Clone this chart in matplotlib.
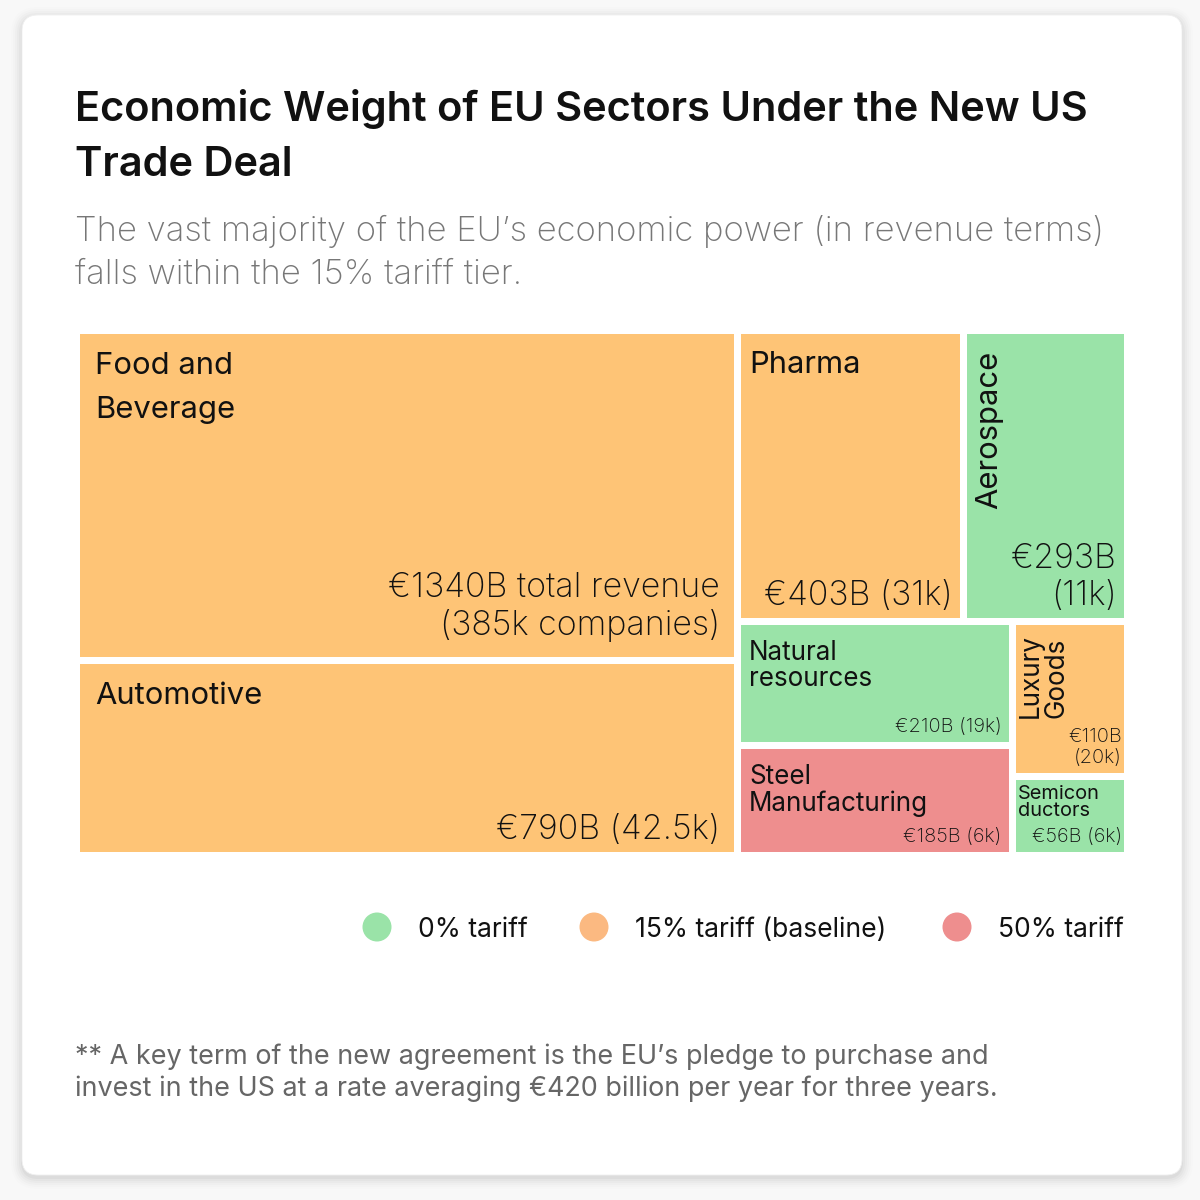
import matplotlib.pyplot as plt
from matplotlib.patches import FancyBboxPatch, Rectangle, Circle

# ---------------------------------------------------------
# Data
# ---------------------------------------------------------
sectors = ['Food and\nBeverage', 'Automotive', 'Pharma', 'Aerospace',
           'Natural\nresources', 'Steel\nManufacturing', 'Luxury\nGoods',
           'Semicon\nductors']
revenue = [1340, 790, 403, 293, 210, 185, 110, 56]          # € billion
companies = ['385k', '42.5k', '31k', '11k', '19k', '6k', '20k', '6k']
tariff = ['15%', '15%', '15%', '0%', '0%', '50%', '15%', '0%']

tiers = ['0%', '15%', '50%']
tier_labels = ['0% tariff', '15% tariff (baseline)', '50% tariff']
tile_colors = {'0%': '#9ae3a8', '15%': '#fec476', '50%': '#ee8e8e'}
legend_colors = {'0%': '#9ae3a8', '15%': '#fbb981', '50%': '#ee8e8e'}

title = 'Economic Weight of EU Sectors Under the New US\nTrade Deal'
subtitle = ('The vast majority of the EU\u2019s economic power (in revenue terms)\n'
            'falls within the 15% tariff tier.')
footnote = ('** A key term of the new agreement is the EU\u2019s pledge to purchase and\n'
            'invest in the US at a rate averaging \u20ac420 billion per year for three years.')

FONT = 'Inter'
PX = 0.72  # px -> pt at dpi 100


# ---------------------------------------------------------
# Squarified layout (d3 style, with aspect ratio target)
# ---------------------------------------------------------
def squarify(values, x0, y0, x1, y1, ratio=2.0):
    n = len(values)
    rects = [None] * n
    i = 0
    while i < n:
        dx, dy = x1 - x0, y1 - y0
        remaining = sum(values[i:])
        alpha = max(dy / dx, dx / dy) / (remaining * ratio)
        row_sum = values[i]
        mn = mx = values[i]
        beta = row_sum * row_sum * alpha
        best = max(mx / beta, beta / mn)
        j = i + 1
        while j < n:
            v = values[j]
            s = row_sum + v
            b = s * s * alpha
            r = max(max(mx, v) / b, b / min(mn, v))
            if r > best:
                break
            row_sum, mn, mx, best = s, min(mn, v), max(mx, v), r
            j += 1
        if dx < dy:
            h = dy * row_sum / remaining
            xx = x0
            for k in range(i, j):
                w = dx * values[k] / row_sum
                rects[k] = (xx, y0, xx + w, y0 + h)
                xx += w
            y0 += h
        else:
            w = dx * row_sum / remaining
            yy = y0
            for k in range(i, j):
                h = dy * values[k] / row_sum
                rects[k] = (x0, yy, x0 + w, yy + h)
                yy += h
            x0 += w
        i = j
    return rects


# ---------------------------------------------------------
# Canvas
# ---------------------------------------------------------
fig = plt.figure(figsize=(12, 12), dpi=100, facecolor='#f8f8f8')
ax = fig.add_axes([0, 0, 1, 1])
ax.set_xlim(0, 1200)
ax.set_ylim(1200, 0)
ax.axis('off')

# card shadow + card
for k, a in enumerate([0.03, 0.025, 0.02, 0.015, 0.01, 0.006]):
    g = 1 + k * 2
    ax.add_patch(FancyBboxPatch((22 - g, 18 - g), 1160 + 2 * g, 1160 + 2 * g,
                                boxstyle='round,pad=0,rounding_size=%d' % (16 + g),
                                fc='black', ec='none', alpha=a))
ax.add_patch(FancyBboxPatch((22, 15), 1160, 1160, boxstyle='round,pad=0,rounding_size=16',
                            fc='white', ec='#f0f0f0', lw=0.6))

# title / subtitle
ax.text(75, 89, title, fontsize=41.6 * PX, fontweight='semibold', family=FONT,
        color='#111111', va='top', ha='left', linespacing=1.55)
ax.text(75, 215, subtitle, fontsize=34.7 * PX, fontweight='light', family=FONT,
        color='#777777', va='top', ha='left', linespacing=1.42)

# ---------------------------------------------------------
# Treemap
# ---------------------------------------------------------
gap = 3.5
rects = squarify(revenue, 80 - gap, 334 - gap, 1124 + gap, 852 + gap, ratio=2.0)

for i, (x0, y0, x1, y1) in enumerate(rects):
    x0, y0, x1, y1 = x0 + gap, y0 + gap, x1 - gap, y1 - gap
    w, h = x1 - x0, y1 - y0
    ax.add_patch(Rectangle((x0, y0), w, h, fc=tile_colors[tariff[i]], ec='none'))

    area = w * h
    rotated = h / w > 1.35
    if area > 100000:
        name_px, val_px, pad, top, ls = 31, 34, 15, 18, 1.75
    elif area > 40000:
        name_px, val_px, pad, top, ls = 31, 34, 8, 17, 1.45
    elif area > 12000:
        name_px, val_px, pad, top, ls = 26, 20, 8, 15, 1.0
    else:
        name_px, val_px, pad, top, ls = 20, 20, 2, 5, 0.95
    if rotated and area < 40000:
        pad, top = 2, 9

    if i == 0:
        val = '\u20ac%dB total revenue\n(%s companies)' % (revenue[i], companies[i])
    elif w < 170 and h > 100:
        val = '\u20ac%dB\n(%s)' % (revenue[i], companies[i])
    else:
        val = '\u20ac%dB (%s)' % (revenue[i], companies[i])
    bot = 15 if ('\n' in val and area > 100000) else 6

    ax.text(x0 + pad, y0 + top, sectors[i], rotation=90 if rotated else 0,
            fontsize=name_px * PX, family=FONT, color='#111111',
            ha='left', va='top', linespacing=ls)
    ax.text(x1 - max(pad, 3) + 1, y1 - bot, val, fontsize=val_px * PX, family=FONT,
            fontweight='light', color='#111111', ha='right', va='bottom',
            multialignment='right', linespacing=1.2)

# ---------------------------------------------------------
# Legend
# ---------------------------------------------------------
leg_x = [377, 594, 957]
for t, lab, lx in zip(tiers, tier_labels, leg_x):
    ax.add_patch(Circle((lx, 927), 14.5, fc=legend_colors[t], ec='none'))
    ax.text(lx + 41, 927, lab, fontsize=26.5 * PX, family=FONT, color='#111111',
            ha='left', va='center_baseline')

# footnote
ax.text(75, 1043, footnote, fontsize=27 * PX, family=FONT, color='#666666',
        va='top', ha='left', linespacing=1.27)

fig.savefig('out.png', dpi=100, facecolor=fig.get_facecolor())
